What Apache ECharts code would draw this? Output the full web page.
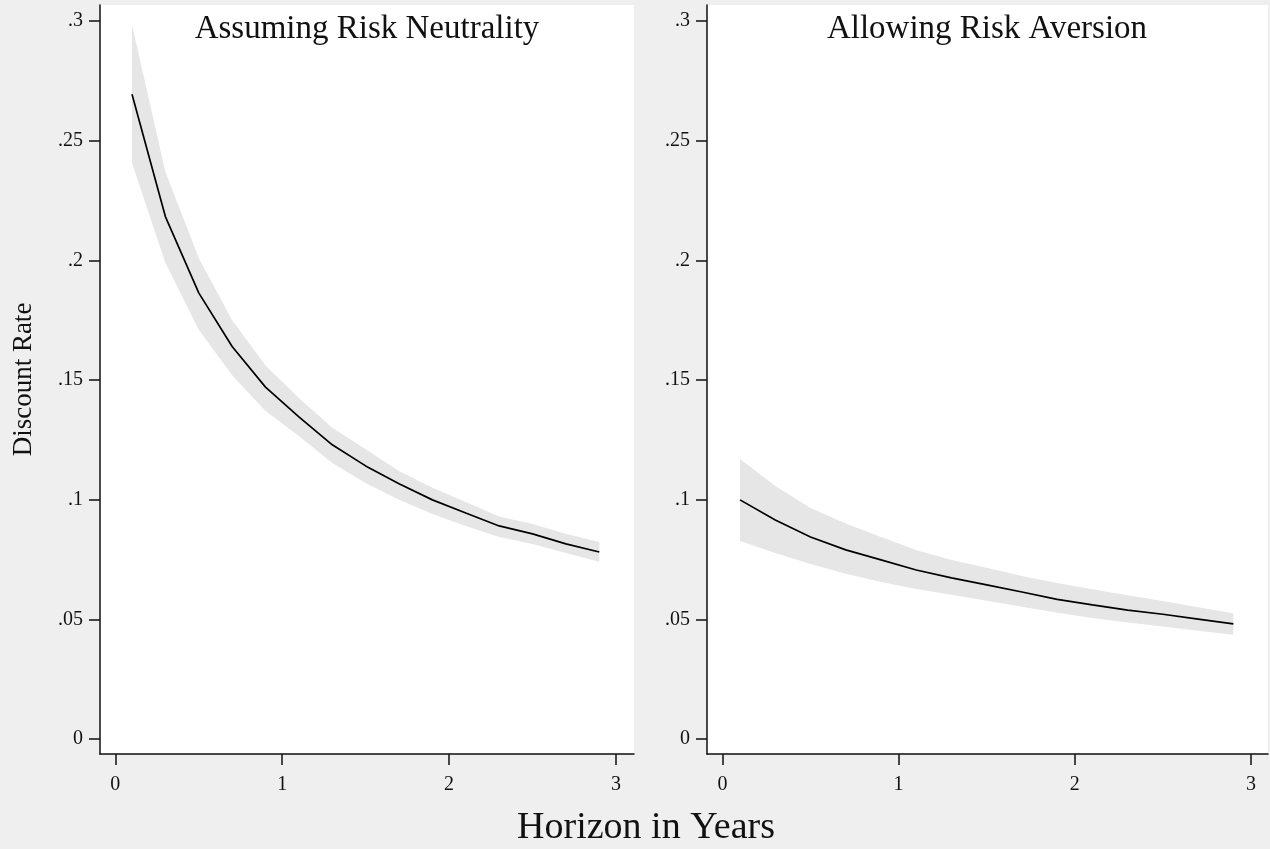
<!DOCTYPE html>
<html>
<head>
<meta charset="utf-8">
<script src="https://cdn.jsdelivr.net/npm/echarts@6/dist/echarts.min.js"></script>
<style>
  html, body { margin: 0; padding: 0; background: #efefef; }
  #chart { width: 1270px; height: 849px; }
</style>
</head>
<body>
<div id="chart"></div>
<script>
// horizon (years) at which the rates were estimated
const horizon = [0.1, 0.3, 0.5, 0.7, 0.9, 1.1, 1.3, 1.5, 1.7, 1.9, 2.1, 2.3, 2.5, 2.7, 2.9];

// left panel: assuming risk neutrality
const neutralRate = [0.2694, 0.2183, 0.1864, 0.1640, 0.1470, 0.1346, 0.1229, 0.1141, 0.1066, 0.0999, 0.0944, 0.0890, 0.0857, 0.0815, 0.0781];
const neutralLo   = [0.2407, 0.1990, 0.1710, 0.1520, 0.1370, 0.1266, 0.1153, 0.1070, 0.1000, 0.0940, 0.0890, 0.0844, 0.0815, 0.0777, 0.0740];
const neutralHi   = [0.2984, 0.2370, 0.2010, 0.1750, 0.1560, 0.1425, 0.1300, 0.1210, 0.1120, 0.1050, 0.0990, 0.0930, 0.0898, 0.0857, 0.0823];

// right panel: allowing risk aversion
const aversionRate = [0.0999, 0.0915, 0.0844, 0.0790, 0.0748, 0.0706, 0.0673, 0.0644, 0.0614, 0.0583, 0.0560, 0.0538, 0.0521, 0.0501, 0.0481];
const aversionLo   = [0.0827, 0.0777, 0.0731, 0.0690, 0.0656, 0.0627, 0.0602, 0.0577, 0.0552, 0.0527, 0.0505, 0.0487, 0.0470, 0.0452, 0.0435];
const aversionHi   = [0.1170, 0.1057, 0.0965, 0.0900, 0.0844, 0.0790, 0.0748, 0.0715, 0.0681, 0.0652, 0.0625, 0.0600, 0.0576, 0.0550, 0.0525];

const xTicks = [0, 1, 2, 3];
const yTicks = [0, 0.05, 0.1, 0.15, 0.2, 0.25, 0.3];
const yTickLabels = ["0", ".05", ".1", ".15", ".2", ".25", ".3"];

const panelTitles = ["Assuming Risk Neutrality", "Allowing Risk Aversion"];
const FONT = "'Liberation Serif', 'Times New Roman', serif";
const INK = "#111";
const BAND = "#e6e6e6";

const xAxisFor = (gridIndex, min, max) => ({
  type: "value",
  gridIndex,
  min, max,
  axisLine: { show: true, onZero: false, lineStyle: { color: INK, width: 1.5 } },
  axisTick: { show: true, customValues: xTicks, length: 11, lineStyle: { color: INK, width: 1.5 } },
  axisLabel: { customValues: xTicks, color: INK, fontFamily: FONT, fontSize: 20, margin: 21 },
  splitLine: { show: false },
});

const yAxisFor = (gridIndex, name) => ({
  type: "value",
  gridIndex,
  min: -0.0063,
  max: 0.3067,
  name,
  nameLocation: "middle",
  nameRotate: 90,
  nameGap: 63,
  nameTextStyle: { color: INK, fontFamily: FONT, fontSize: 27 },
  axisLine: { show: true, onZero: false, lineStyle: { color: INK, width: 1.5 } },
  axisTick: { show: true, customValues: yTicks, length: 11, lineStyle: { color: INK, width: 1.5 } },
  axisLabel: {
    customValues: yTicks,
    color: INK, fontFamily: FONT, fontSize: 20, margin: 17,
    formatter: (v) => yTickLabels[yTicks.findIndex((t) => Math.abs(t - v) < 1e-9)] ?? "",
  },
  splitLine: { show: false },
});

// confidence band as one polygon: upper edge forward, lower edge back
const bandSeries = (idx, lo, hi) => ({
  type: "custom",
  xAxisIndex: idx, yAxisIndex: idx,
  silent: true,
  data: horizon.map((x, i) => [x, lo[i], hi[i]]),
  encode: { x: 0, y: [1, 2] },
  renderItem: (params, api) => {
    if (params.dataIndex !== 0) return null;
    const upper = horizon.map((x, i) => api.coord([x, hi[i]]));
    const lower = horizon.map((x, i) => api.coord([x, lo[i]])).reverse();
    return {
      type: "polygon",
      shape: { points: upper.concat(lower) },
      style: { fill: BAND, stroke: null },
    };
  },
  z: 1,
});

const panelSeries = (idx, rate, lo, hi) => [
  bandSeries(idx, lo, hi),
  {
    type: "line", xAxisIndex: idx, yAxisIndex: idx,
    data: horizon.map((x, i) => [x, rate[i]]), symbol: "none",
    lineStyle: { color: "#000", width: 1.7 },
    z: 3,
  },
];

const chart = echarts.init(document.getElementById("chart"), null, { renderer: "canvas" });

chart.setOption({
  backgroundColor: "#efefef",
  animation: false,
  grid: [
    { left: 100, top: 5, width: 534, bottom: 95, show: true, backgroundColor: "#fff", borderWidth: 0 },
    { left: 707, top: 5, width: 561, bottom: 95, show: true, backgroundColor: "#fff", borderWidth: 0 },
  ],
  xAxis: [xAxisFor(0, -0.0917, 3.108), xAxisFor(1, -0.0875, 3.0965)],
  yAxis: [yAxisFor(0, "Discount Rate"), yAxisFor(1, "")],
  series: [
    ...panelSeries(0, neutralRate, neutralLo, neutralHi),
    ...panelSeries(1, aversionRate, aversionLo, aversionHi),
  ],
  graphic: [
    { type: "text", z: 100, x: 367, y: 29, style: { text: panelTitles[0], font: "33px " + FONT, fill: INK, align: "center", verticalAlign: "middle" } },
    { type: "text", z: 100, x: 987, y: 29, style: { text: panelTitles[1], font: "33px " + FONT, fill: INK, align: "center", verticalAlign: "middle" } },
    { type: "text", z: 100, x: 646, y: 828, style: { text: "Horizon in Years", font: "38px " + FONT, fill: INK, align: "center", verticalAlign: "middle" } },
  ],
});

window.addEventListener("resize", () => chart.resize());
</script>
</body>
</html>
